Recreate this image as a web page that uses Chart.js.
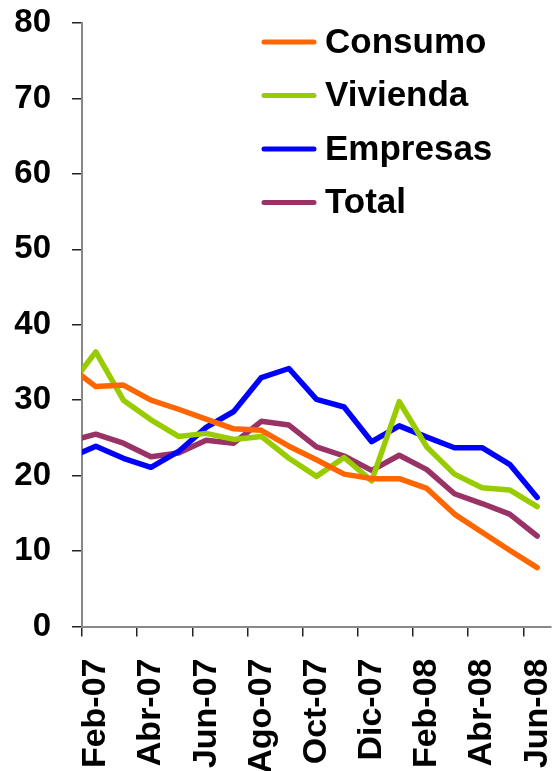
<!DOCTYPE html>
<html>
<head>
<meta charset="utf-8">
<script src="https://cdn.jsdelivr.net/npm/chart.js@4/dist/chart.umd.min.js"></script>
<style>
  html, body { margin: 0; padding: 0; background: #fff; }
  #wrap { width: 552px; height: 771px; }
</style>
</head>
<body>
<div id="wrap"><canvas id="myChart"></canvas></div>
<script>
'use strict';
// Ene-07 sits just left of the axis, only its clipped segment shows
const months = ['Ene-07', 'Feb-07', 'Mar-07', 'Abr-07', 'May-07', 'Jun-07', 'Jul-07', 'Ago-07', 'Sep-07',
  'Oct-07', 'Nov-07', 'Dic-07', 'Ene-08', 'Feb-08', 'Mar-08', 'Abr-08', 'May-08', 'Jun-08'];
const consumo  = [34.6, 31.8, 32.0, 30.0, 28.8, 27.5, 26.2, 26.0, 23.9, 22.1, 20.2, 19.6, 19.6, 18.3, 14.9, 12.5, 10.1, 7.8];
const vivienda = [31.6, 36.4, 30.0, 27.4, 25.2, 25.6, 24.8, 25.2, 22.3, 19.9, 22.4, 19.3, 29.8, 23.8, 20.2, 18.4, 18.1, 15.9];
const empresas = [22.3, 23.9, 22.3, 21.1, 23.2, 26.4, 28.5, 33.0, 34.2, 30.1, 29.1, 24.5, 26.6, 25.1, 23.7, 23.7, 21.5, 17.1];
const total    = [24.5, 25.5, 24.3, 22.5, 23.0, 24.7, 24.3, 27.2, 26.7, 23.8, 22.6, 20.7, 22.7, 20.8, 17.6, 16.3, 14.9, 12.0];
const yTicks = [0, 80, 10]; // min, max, step

const FONT = '"Liberation Sans", Arial, sans-serif';
Chart.defaults.font.family = FONT;
Chart.defaults.color = '#000';

function line(label, data, color) {
  return {
    label: label, data: data, borderColor: color, backgroundColor: color,
    borderWidth: 5.5, pointRadius: 0, pointHoverRadius: 0, tension: 0, fill: false,
    borderJoinStyle: 'round', borderCapStyle: 'round', clip: 0
  };
}

// legend drawn inside the plot, top right
const insideLegend = {
  id: 'insideLegend',
  afterDraw(chart) {
    const ctx = chart.ctx;
    ctx.save();
    ctx.font = 'bold 35px ' + FONT;
    ctx.textBaseline = 'middle';
    chart.data.datasets.forEach((ds, i) => {
      const y = 42 + i * 53.5;
      ctx.strokeStyle = ds.borderColor;
      ctx.lineWidth = 5;
      ctx.lineCap = 'round';
      ctx.beginPath();
      ctx.moveTo(264, y);
      ctx.lineTo(314, y);
      ctx.stroke();
      ctx.fillStyle = '#000';
      ctx.fillText(ds.label, 325, y + 1);
    });
    ctx.restore();
  }
};

new Chart(document.getElementById('myChart'), {
  type: 'line',
  data: {
    labels: months,
    datasets: [
      line('Consumo', consumo, '#FF6600'),
      line('Vivienda', vivienda, '#99CC00'),
      line('Empresas', empresas, '#0000FF'),
      line('Total', total, '#993366')
    ]
  },
  plugins: [insideLegend],
  options: {
    responsive: true,
    maintainAspectRatio: false,
    animation: false,
    layout: { padding: { top: 23, right: 1, bottom: 0, left: 0 } },
    plugins: { legend: { display: false }, tooltip: { enabled: false } },
    scales: {
      x: {
        type: 'category',
        min: 'Feb-07',
        offset: true,
        grid: {
          offset: true, drawOnChartArea: false, tickLength: 10, lineWidth: 1.5,
          color: (c) => (c.index % 2 === 0 ? '#222' : 'rgba(0,0,0,0)')
        },
        border: { color: '#888', width: 2 },
        ticks: {
          autoSkip: false, maxRotation: 90, minRotation: 90, padding: 22,
          font: { size: 34, weight: 'bold' },
          callback: function (v, i) { return i % 2 === 0 ? this.getLabelForValue(v) : ''; }
        },
        afterFit: (s) => { s.height = 144.5; s.paddingLeft = 0; s.paddingRight = 0; }
      },
      y: {
        min: yTicks[0], max: yTicks[1],
        grid: { drawOnChartArea: false, tickLength: 10, lineWidth: 1.5, color: '#222' },
        border: { color: '#888', width: 2 },
        ticks: { stepSize: yTicks[2], padding: 21, font: { size: 33, weight: 'bold' } },
        afterFit: (s) => { s.width = 82; s.paddingTop = 0; s.paddingBottom = 0; }
      }
    }
  }
});
</script>
</body>
</html>
